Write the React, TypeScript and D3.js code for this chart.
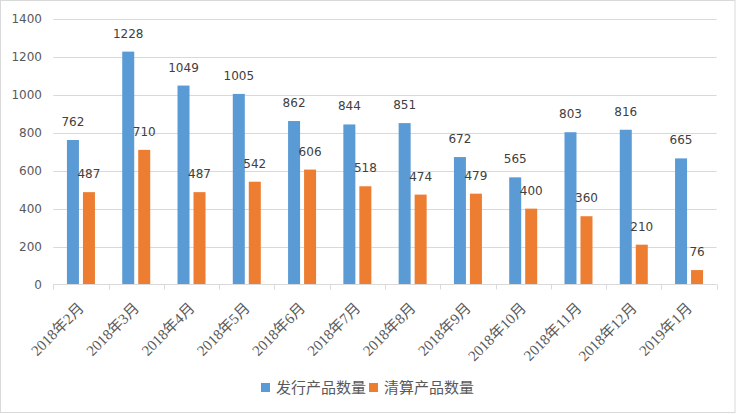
import React from "react";
import * as d3 from "d3";

const categories = ["2018年2月","2018年3月","2018年4月","2018年5月","2018年6月","2018年7月","2018年8月","2018年9月","2018年10月","2018年11月","2018年12月","2019年1月"];
const issued = [762,1228,1049,1005,862,844,851,672,565,803,816,665];
const cleared = [487,710,487,542,606,518,474,479,400,360,210,76];
const yTicks = [0,200,400,600,800,1000,1200,1400];
const seriesNames = ["发行产品数量","清算产品数量"];
const colors = ["#5b9bd5","#ed7d31"];

const W = 736, H = 414;
const plotLeft = 53.3, plotRight = 716.7, plotTop = 19, plotBottom = 284.5;

export default function App() {
  const x = d3.scaleBand<string>().domain(categories).range([plotLeft, plotRight]).padding(0);
  const y = d3.scaleLinear().domain([0, 1400]).range([plotBottom, plotTop]);
  const inner = d3.scaleBand<string>().domain(["a","b"]).range([-14, 14]).paddingInner(0.25).paddingOuter(0);
  const series = [issued, cleared];
  const keys = ["a","b"];
  const axisFont = "DejaVu Sans, Verdana, sans-serif";
  return (
    <div style={{ position: "fixed", left: 0, top: 0 }}>
      <svg width={W} height={H} style={{ display: "block", background: "#fff" }}>
        <rect x={0.5} y={0.5} width={W - 1.5} height={H - 2} fill="#fff" stroke="#d9d9d9" />
        {yTicks.map(t => (
          <g key={t}>
            {t !== 0 && <line x1={plotLeft} x2={plotRight} y1={Math.round(y(t)) + 0.5} y2={Math.round(y(t)) + 0.5} stroke="#d9d9d9" />}
            <text x={42} y={y(t)} dy="0.35em" textAnchor="end" fontSize={12} fill="#595959" fontFamily={axisFont}>{t}</text>
          </g>
        ))}
        {series.map((vals, si) => (
          <g key={si}>
            {vals.map((v, i) => {
              const cx = x(categories[i])! + x.bandwidth() / 2;
              const bx = cx + inner(keys[si])!;
              return (
                <g key={i}>
                  <rect x={bx} y={y(v)} width={inner.bandwidth()} height={plotBottom - y(v)} fill={colors[si]} />
                  <text x={bx + inner.bandwidth() / 2} y={y(v) - 14} textAnchor="middle" fontSize={12} fill="#404040" fontFamily={axisFont}>{v}</text>
                </g>
              );
            })}
          </g>
        ))}
        <line x1={plotLeft} x2={plotRight} y1={plotBottom} y2={plotBottom} stroke="#d9d9d9" />
        {d3.range(categories.length + 1).map(i => {
          const tx = Math.round(plotLeft + i * x.step()) + 0.5;
          return <line key={i} x1={tx} x2={tx} y1={plotBottom} y2={plotBottom + 5} stroke="#d9d9d9" />;
        })}
        {categories.map((c, i) => {
          const cx = x(c)! + x.bandwidth() / 2 + 4;
          const cy = 309;
          return (
            <text key={c} transform={`translate(${cx},${cy}) rotate(-45)`} textAnchor="end" fontSize={15} fill="#595959" fontFamily="Liberation Serif, Noto Sans CJK SC, serif">{c}</text>
          );
        })}
        <g fontFamily="Noto Sans CJK SC, sans-serif" fontSize={15} fill="#595959">
          {seriesNames.map((n, i) => {
            const lx = i === 0 ? 261 : 369;
            return (
              <g key={n}>
                <rect x={lx} y={383} width={9} height={9} fill={colors[i]} />
                <text x={lx + 15} y={388} dy="0.35em">{n}</text>
              </g>
            );
          })}
        </g>
      </svg>
    </div>
  );
}
